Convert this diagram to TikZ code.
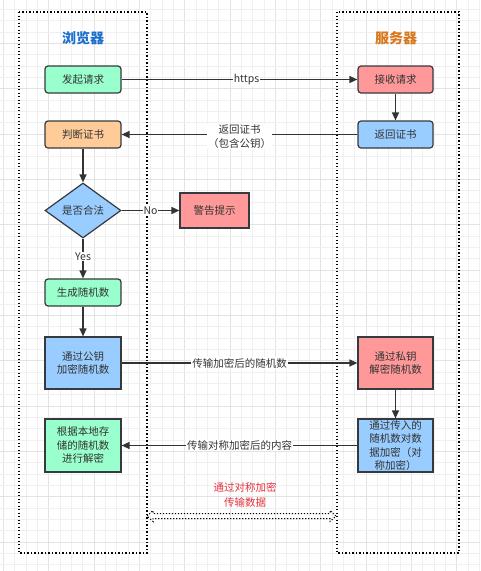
\documentclass[tikz,border=0pt]{standalone}
\usepackage{fontspec}
\setmainfont{Noto Sans CJK SC}
\usetikzlibrary{arrows.meta,shapes.geometric}
\definecolor{cgreen}{HTML}{99FFCC}
\definecolor{corange}{HTML}{FFCC99}
\definecolor{cred}{HTML}{FF9999}
\definecolor{cblue}{HTML}{99CCFF}
\definecolor{cborder}{HTML}{36393D}
\definecolor{cline}{HTML}{333333}
\definecolor{ctblue}{HTML}{1A6FCC}
\definecolor{ctorange}{HTML}{D9771E}
\definecolor{cnote}{HTML}{E5323B}
\definecolor{gminor}{HTML}{F0F0F0}
\definecolor{gmajor}{HTML}{E3E3E3}
\begin{document}
\begin{tikzpicture}[x=1pt,y=-1pt,
  txt/.style={font=\fontsize{10.5}{13.5}\selectfont},
  box/.style={txt, draw=cborder, line width=1.2, minimum width=76, minimum height=27, inner sep=0, align=center, text=cline},
  rbox/.style={box, rounded corners=3},
  conn/.style={draw=cline, line width=1.3, -{Triangle[length=8,width=7]}},
  lbl/.style={txt, fill=white, inner sep=1, text=cline},
  lane/.style={draw=black, line width=1.2, dash pattern=on 1.3 off 2.2},
  title/.style={font=\fontsize{14}{16}\selectfont\bfseries}]
\useasboundingbox (0,0) rectangle (480,571);
% background
\begin{scope}
\clip (0,0) rectangle (480,571);
\fill[white] (0,0) rectangle (480,571);
\foreach \k in {0,...,42}{
  \pgfmathtruncatemacro{\m}{mod(\k,4)}
  \ifnum\m=0 \def\gc{gmajor}\else\def\gc{gminor}\fi
  \draw[\gc, line width=0.6] ({3.4+11.333*\k},0) -- ({3.4+11.333*\k},571);
}
\foreach \k in {0,...,51}{
  \pgfmathtruncatemacro{\m}{mod(\k,4)}
  \ifnum\m=0 \def\gc{gmajor}\else\def\gc{gminor}\fi
  \draw[\gc, line width=0.6] (0,{-1.9+11.333*\k}) -- (480,{-1.9+11.333*\k});
}
\end{scope}
% lanes
\draw[lane] (19,12) rectangle (147,553);
\draw[lane] (337,12) rectangle (459,553);
\node[title, text=ctblue] (t1) at (83,38) {浏览器};
\node[title, text=ctorange] (t2) at (396,38) {服务器};
% nodes
\node[rbox, fill=cgreen] (req) at (83,79.5) {发起请求};
\node[rbox, fill=corange] (judge) at (83,134.5) {判断证书};
\node[txt, diamond, draw=cborder, line width=1.2, fill=cblue, aspect=1.38, minimum width=76, minimum height=55, inner sep=0, text=cline] (legal) at (83,210.5) {是否合法};
\node[box, fill=cred, minimum width=69, minimum height=35] (warn) at (214.5,210.5) {警告提示};
\node[rbox, fill=cgreen] (gen) at (83,292.5) {生成随机数};
\node[box, fill=cblue, minimum height=52] (enc) at (83,363) {通过公钥\\加密随机数};
\node[box, fill=cgreen, minimum height=53] (dec) at (83,445.5) {根据本地存\\储的随机数\\进行解密};
\node[rbox, fill=cred, minimum width=75] (recv) at (395.5,79.5) {接收请求};
\node[rbox, fill=cblue, minimum width=75] (ret) at (395.5,134.5) {返回证书};
\node[box, fill=cred, minimum width=75, minimum height=52] (pdec) at (395.5,363) {通过私钥\\解密随机数};
\node[box, fill=cblue, minimum width=75, minimum height=53, font=\fontsize{10.5}{13.2}\selectfont] (sym) at (395.5,445.5) {通过传入的\\随机数对数\\据加密（对\\称加密）};
% connectors
\draw[conn] (req) -- node[lbl, pos=0.53]{https} (recv);
\draw[conn] (recv) -- (ret);
\draw[conn] (ret) -- node[lbl, align=center, yshift=-2]{返回证书\\（包含公钥）} (judge);
\draw[conn] (judge) -- (legal);
\draw[conn] (legal) -- node[lbl]{No} (warn);
\draw[conn] (legal) -- node[lbl, pos=0.45]{Yes} (gen);
\draw[conn] (gen) -- (enc);
\draw[conn] (enc) -- node[lbl]{传输加密后的随机数} (pdec);
\draw[conn] (pdec) -- (sym);
\draw[conn] (sym) -- node[lbl]{传输对称加密后的内容} (dec);
% note
\node[text=cnote, align=center, font=\fontsize{10.5}{15}\selectfont] (note) at (245,494.5) {通过对称加密\\传输数据};
\draw[draw=black, line width=1, dash pattern=on 1.2 off 1.8]
  (147,516) -- (153,510.5) -- (153,513.5) -- (330,513.5) -- (330,510.5) -- (336,516)
  -- (330,521.5) -- (330,518.5) -- (153,518.5) -- (153,521.5) -- cycle;
\end{tikzpicture}
\end{document}
